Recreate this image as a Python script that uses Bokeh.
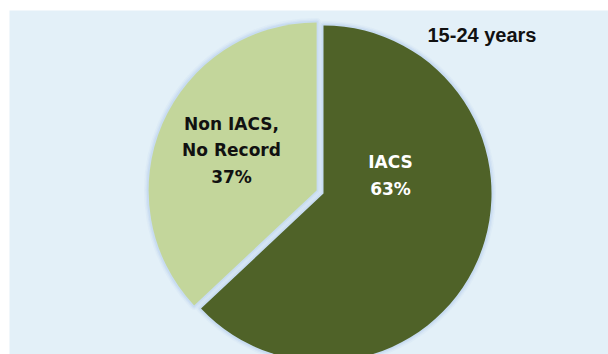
import math
from bokeh.plotting import figure
from bokeh.models import Range1d
from bokeh.core.properties import value
from bokeh.embed import file_html
from bokeh.resources import INLINE

# ---- data ----
categories = ["IACS", "Non IACS,\nNo Record"]
shares = [63, 37]
colors = ["#4f6228", "#c3d69b"]
label_colors = ["#ffffff", "#111111"]
explode = [0.0, 7.5]
subtitle = "15-24 years"

# ---- layout ----
W, H = 608, 354
PAGE_H = 354
def py(y):  # page y -> data y
    return PAGE_H - y

p = figure(width=W, height=H, output_backend="svg", toolbar_location=None,
           x_range=Range1d(9, 608), y_range=Range1d(0, 344),
           min_border_left=9, min_border_top=10, min_border_right=0, min_border_bottom=0)
p.axis.visible = False
p.grid.visible = False
p.outline_line_color = None
p.border_fill_color = "#ffffff"
p.background_fill_color = "#e3f0f8"

cx, cy, r = 323, py(193), 168
glow = "#c3d8f0"

total = sum(shares)
ang = math.pi / 2  # start at 12 o'clock, go clockwise
label_pos = [(390, 175), (231, 150)]
for i, (cat, v) in enumerate(zip(categories, shares)):
    sweep = 2 * math.pi * v / total
    end = ang
    start = ang - sweep
    mid = (start + end) / 2
    x0 = cx + explode[i] * math.cos(mid)
    y0 = cy + explode[i] * math.sin(mid)
    for lw, la in [(9, 0.18), (6, 0.35), (3.5, 0.7)]:
        p.wedge(x=x0, y=y0, radius=r, start_angle=start, end_angle=end,
                direction="anticlock", fill_alpha=0, line_color=glow,
                line_width=lw, line_alpha=la, line_join="round")
    ang = start

ang = math.pi / 2
for i, (cat, v) in enumerate(zip(categories, shares)):
    sweep = 2 * math.pi * v / total
    end = ang
    start = ang - sweep
    mid = (start + end) / 2
    x0 = cx + explode[i] * math.cos(mid)
    y0 = cy + explode[i] * math.sin(mid)
    p.wedge(x=x0, y=y0, radius=r, start_angle=start, end_angle=end,
            direction="anticlock", fill_color=colors[i], line_color=None)
    lx, ly = label_pos[i]
    p.text(x=[lx], y=[py(ly)], text=[f"{cat}\n{v}%"], text_align="center",
           text_baseline="middle", text_font=value("DejaVu Sans"),
           text_font_style="bold", text_font_size="17px",
           text_color=label_colors[i], text_line_height=1.32)
    ang = start

p.text(x=[427], y=[py(34)], text=[subtitle], text_align="left",
       text_baseline="middle", text_font=value("Liberation Sans"),
       text_font_style="bold", text_font_size="20px", text_color="#111111")

open("out.html", "w").write(file_html(p, INLINE))
